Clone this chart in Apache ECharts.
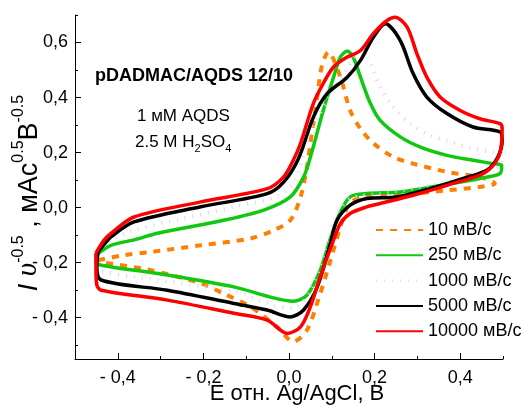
<!DOCTYPE html>
<html>
<head>
<meta charset="utf-8">
<script src="https://cdn.jsdelivr.net/npm/echarts@6/dist/echarts.min.js"></script>
<style>
  html, body { margin: 0; padding: 0; background: #fff; }
  #chart { width: 524px; height: 413px; }
</style>
</head>
<body>
<div id="chart"></div>
<script>
// Cyclic voltammograms: potential (V vs Ag/AgCl) vs scan-rate-normalised current.
const seriesNames = ['10 мВ/с', '250 мВ/с', '1000 мВ/с', '5000 мВ/с', '10000 мВ/с'];

const cv10 = [
  [-0.446,-0.191],[-0.386,-0.173],[-0.323,-0.161],[-0.206,-0.137],[-0.090,-0.112],[-0.036,-0.082],
  [0.003,-0.046],[0.027,0.039],[0.042,0.148],[0.050,0.234],[0.066,0.402],[0.077,0.517],[0.092,0.565],
  [0.120,0.474],[0.143,0.353],[0.167,0.287],[0.197,0.234],[0.244,0.184],[0.290,0.160],[0.369,0.130],
  [0.446,0.111],[0.481,0.088],
  [0.446,0.075],[0.369,0.063],[0.290,0.051],[0.213,0.045],[0.167,0.038],[0.139,0.009],[0.120,-0.070],
  [0.097,-0.191],[0.073,-0.312],[0.042,-0.445],[0.010,-0.487],[-0.028,-0.433],[-0.090,-0.360],
  [-0.153,-0.312],[-0.206,-0.275],[-0.330,-0.225],[-0.439,-0.198],[-0.446,-0.191]
];

const cv250 = [
  [-0.451,-0.173],[-0.416,-0.137],[-0.362,-0.117],[-0.307,-0.093],[-0.153,-0.046],[-0.059,-0.009],
  [0.003,0.039],[0.034,0.111],[0.050,0.184],[0.080,0.353],[0.104,0.474],[0.120,0.547],[0.136,0.569],
  [0.150,0.547],[0.167,0.474],[0.190,0.379],[0.213,0.317],[0.260,0.257],[0.307,0.220],[0.369,0.190],
  [0.430,0.172],[0.477,0.160],[0.497,0.154],
  [0.493,0.124],[0.446,0.106],[0.369,0.085],[0.260,0.057],[0.182,0.051],[0.143,0.039],[0.120,-0.017],
  [0.097,-0.111],[0.073,-0.227],[0.042,-0.318],[0.010,-0.340],[-0.036,-0.328],[-0.129,-0.288],
  [-0.284,-0.245],[-0.439,-0.209],[-0.451,-0.198],[-0.451,-0.173]
];

const cv1000 = [
  [-0.449,-0.162],[-0.420,-0.120],[-0.362,-0.082],[-0.250,-0.040],[-0.129,0.003],[-0.030,0.040],
  [0.010,0.090],[0.038,0.208],[0.057,0.299],[0.097,0.408],[0.134,0.499],[0.155,0.554],[0.171,0.579],
  [0.190,0.525],[0.213,0.438],[0.244,0.365],[0.283,0.305],[0.330,0.262],[0.369,0.243],[0.430,0.215],
  [0.477,0.202],[0.497,0.195],
  [0.495,0.160],[0.470,0.135],[0.423,0.115],[0.330,0.080],[0.213,0.051],[0.143,0.033],[0.111,-0.028],
  [0.085,-0.154],[0.050,-0.307],[0.008,-0.365],[-0.036,-0.355],[-0.129,-0.305],[-0.362,-0.251],
  [-0.447,-0.225],[-0.450,-0.200],[-0.449,-0.162]
];

const cv5000 = [
  [-0.446,-0.160],[-0.430,-0.130],[-0.416,-0.106],[-0.362,-0.052],[-0.206,0.003],[-0.051,0.051],
  [-0.013,0.092],[0.022,0.178],[0.057,0.329],[0.089,0.414],[0.136,0.474],[0.167,0.535],[0.197,0.619],
  [0.225,0.668],[0.260,0.607],[0.290,0.487],[0.322,0.402],[0.369,0.342],[0.430,0.293],[0.493,0.275],
  [0.498,0.245],
  [0.488,0.184],[0.462,0.136],[0.407,0.106],[0.330,0.069],[0.252,0.039],[0.182,0.033],[0.143,0.009],
  [0.112,-0.046],[0.097,-0.129],[0.066,-0.288],[0.034,-0.372],[0.003,-0.397],[-0.051,-0.372],
  [-0.129,-0.348],[-0.284,-0.300],[-0.439,-0.263],[-0.449,-0.209],[-0.446,-0.160]
];

const cv10000 = [
  [-0.451,-0.165],[-0.432,-0.118],[-0.416,-0.094],[-0.362,-0.034],[-0.206,0.021],[-0.051,0.069],
  [-0.013,0.111],[0.010,0.172],[0.027,0.234],[0.057,0.379],[0.080,0.451],[0.104,0.511],[0.136,0.547],
  [0.167,0.571],[0.197,0.632],[0.229,0.680],[0.248,0.692],[0.276,0.656],[0.299,0.559],[0.322,0.474],
  [0.353,0.402],[0.400,0.353],[0.446,0.323],[0.493,0.305],[0.498,0.288],
  [0.493,0.200],[0.475,0.150],[0.446,0.118],[0.369,0.081],[0.290,0.045],[0.213,0.015],[0.182,0.003],
  [0.143,-0.021],[0.120,-0.058],[0.104,-0.118],[0.073,-0.251],[0.050,-0.360],[0.027,-0.433],
  [-0.004,-0.457],[-0.051,-0.409],[-0.129,-0.384],[-0.284,-0.336],[-0.439,-0.300],[-0.449,-0.281],
  [-0.451,-0.227],[-0.451,-0.165]
];

// Axis ticks: labelled majors and short minors in between
const xMajorTicks = [-0.4, -0.2, 0.0, 0.2, 0.4];
const xMinorTicks = [-0.5, -0.3, -0.1, 0.1, 0.3, 0.5];
const yMajorTicks = [-0.4, -0.2, 0.0, 0.2, 0.4, 0.6];
const yMinorTicks = [-0.5, -0.3, -0.1, 0.1, 0.3, 0.5, 0.7];

const FONT = '"Liberation Sans", Arial, Helvetica, sans-serif';

function tickText(v) {
  const s = Number(v).toFixed(1).replace('.', ',');
  return s.charAt(0) === '-' ? '- ' + s.slice(1) : s;
}

const styles = [
  { color: '#ff8000', width: 4, type: [7, 7] },
  { color: '#11c811', width: 3.5, type: 'solid' },
  { color: '#d6d6f4', width: 4, type: [1, 7] },
  { color: '#000000', width: 3.5, type: 'solid' },
  { color: '#ff0000', width: 3.5, type: 'solid' }
];
const curves = [cv10, cv250, cv1000, cv5000, cv10000];

const chart = echarts.init(document.getElementById('chart'), null, { renderer: 'canvas' });

const xRange = { min: -0.5, max: 0.5 };
const yRange = { min: -0.55, max: 0.7 };

const option = {
  animation: false,
  backgroundColor: '#ffffff',
  grid: { left: 75, right: 21, top: 15, bottom: 54, containLabel: false },
  xAxis: [
    {
      type: 'value', min: xRange.min, max: xRange.max, position: 'bottom',
      axisLine: { show: true, onZero: false, lineStyle: { color: '#000', width: 1 } },
      axisTick: { show: true, inside: true, length: 6, customValues: xMajorTicks, lineStyle: { color: '#000', width: 1 } },
      axisLabel: { show: true, customValues: xMajorTicks, formatter: tickText, margin: 10,
        color: '#000', fontSize: 18, fontFamily: FONT },
      splitLine: { show: false }
    },
    {
      type: 'value', min: xRange.min, max: xRange.max, position: 'bottom',
      axisLine: { show: false, onZero: false },
      axisTick: { show: true, inside: true, length: 3, customValues: xMinorTicks, lineStyle: { color: '#000', width: 1 } },
      axisLabel: { show: false },
      splitLine: { show: false }
    }
  ],
  yAxis: [
    {
      type: 'value', min: yRange.min, max: yRange.max, position: 'left',
      axisLine: { show: true, onZero: false, lineStyle: { color: '#000', width: 1 } },
      axisTick: { show: true, inside: true, length: 6, customValues: yMajorTicks, lineStyle: { color: '#000', width: 1 } },
      axisLabel: { show: true, customValues: yMajorTicks, formatter: tickText, margin: 7,
        color: '#000', fontSize: 18, fontFamily: FONT },
      splitLine: { show: false }
    },
    {
      type: 'value', min: yRange.min, max: yRange.max, position: 'left',
      axisLine: { show: false, onZero: false },
      axisTick: { show: true, inside: true, length: 3, customValues: yMinorTicks, lineStyle: { color: '#000', width: 1 } },
      axisLabel: { show: false },
      splitLine: { show: false }
    }
  ],
  legend: {
    orient: 'vertical',
    left: 375, top: 221,
    padding: 0,
    itemWidth: 47, itemHeight: 14, itemGap: 7.3,
    itemStyle: { opacity: 0 },
    data: seriesNames,
    textStyle: { color: '#000', fontSize: 18, fontFamily: FONT }
  },
  series: curves.map((d, i) => ({
    name: seriesNames[i],
    type: 'line',
    xAxisIndex: 0, yAxisIndex: 0,
    data: d,
    smooth: 0.3,
    symbol: 'none',
    showSymbol: false,
    clip: false,
    z: 2 + i,
    lineStyle: { color: styles[i].color, width: styles[i].width, type: styles[i].type, cap: 'butt', join: 'round' },
    itemStyle: { color: styles[i].color }
  })),
  graphic: [
    {
      type: 'text', left: 95, top: 67,
      style: { text: 'pDADMAC/AQDS 12/10', fill: '#000', font: 'bold 18px ' + FONT }
    },
    {
      type: 'text', left: 137, top: 108,
      style: { text: '1 мМ AQDS', fill: '#000', font: '17px ' + FONT }
    },
    {
      type: 'text', left: 135, top: 134,
      style: {
        text: '{t|2.5 M H}{s|2}{t|SO}{s|4}',
        rich: {
          t: { fontSize: 17, fontFamily: FONT, fill: '#000', lineHeight: 24, verticalAlign: 'middle' },
          s: { fontSize: 11, fontFamily: FONT, fill: '#000', lineHeight: 24, verticalAlign: 'bottom' }
        }
      }
    },
    {
      type: 'text', x: 297, y: 394,
      style: { text: 'E отн. Ag/AgCl, B', fill: '#000', font: '22px ' + FONT, align: 'center', verticalAlign: 'middle' }
    },
    {
      type: 'text', x: 27, y: 193, rotation: Math.PI / 2,
      style: {
        text: '{it|I }{gr|υ}{sup|-0.5}{m| , мАс}{sup|0.5}{m|В}{sup|-0.5}',
        align: 'center', verticalAlign: 'middle',
        rich: {
          it: { fontSize: 27, fontStyle: 'italic', fontFamily: FONT, fill: '#000', lineHeight: 32, verticalAlign: 'bottom' },
          gr: { fontSize: 29, fontStyle: 'italic', fontFamily: '"Liberation Serif", serif', fill: '#000', lineHeight: 32, verticalAlign: 'bottom' },
          m: { fontSize: 27, fontFamily: FONT, fill: '#000', lineHeight: 32, verticalAlign: 'bottom' },
          sup: { fontSize: 16, fontFamily: FONT, fill: '#000', lineHeight: 32, verticalAlign: 'top' }
        }
      }
    }
  ]
};

chart.setOption(option);
</script>
</body>
</html>
